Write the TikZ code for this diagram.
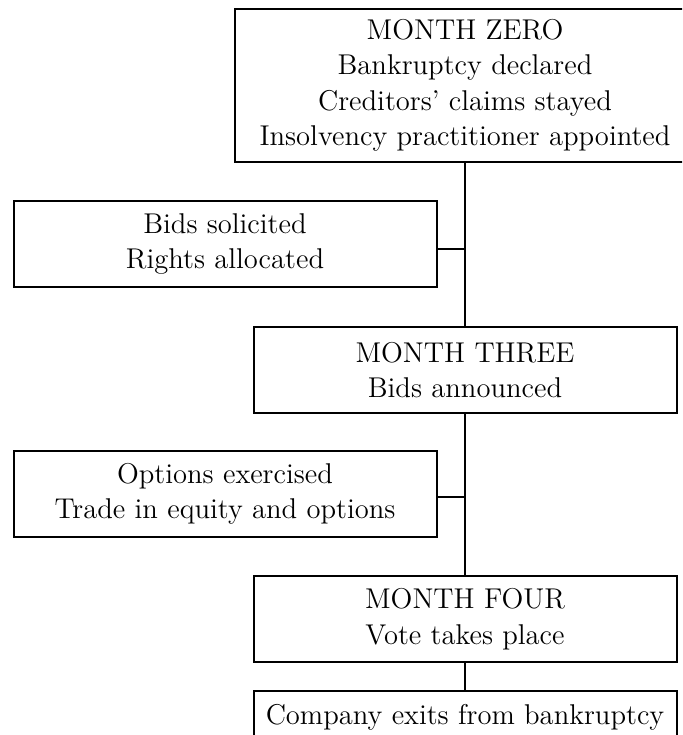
\documentclass[tikz,border=0pt]{standalone}
\usepackage{tikz}
\usetikzlibrary{positioning}
\tikzset{
  stage/.style={
    rectangle,
    minimum width=211.5pt,
    minimum height=43pt,
    inner xsep=12pt,
    outer sep=0pt,
    align=center,
    draw=black,
    line width=1pt,
    font=\fontsize{14.3}{17.7}\selectfont
    },
  event/.style={stage},
  link/.style={line width=1pt},
}

\begin{document}
\begin{tikzpicture}
\useasboundingbox (0,0) rectangle (341pt,-367.5pt);
\clip (0,0) rectangle (341pt,-367.5pt);
\node (zero) [stage, minimum width=230pt, minimum height=76.5pt, anchor=north] at (232.5pt,-4.5pt)
  {MONTH ZERO\\Bankruptcy declared\\Creditors' claims stayed\\Insolvency practitioner appointed};
\node (bids) [event, below=19.5pt of zero, xshift=-120pt] {Bids solicited\\Rights allocated};
\node (three) [stage, below=20pt of bids, xshift=120pt] {MONTH THREE\\Bids announced};
\node (opts) [event, below=19pt of three, xshift=-120pt] {Options exercised\\Trade in equity and options};
\node (four) [stage, below=19.5pt of opts, xshift=120pt] {MONTH FOUR\\Vote takes place};
\node (exit) [stage, minimum height=26pt, inner xsep=5pt, below=14.5pt of four] {Company exits from bankruptcy};

\draw [link] (zero) -- (three);
\draw [link] (three) -- (four);
\draw [link] (four) -- (exit);
\draw [link] ([yshift=-2.5pt]bids.east) -- ([yshift=-2.5pt]bids.east -| zero.south);
\draw [link] ([yshift=-1.5pt]opts.east) -- ([yshift=-1.5pt]opts.east -| three.north);
\end{tikzpicture}
\end{document}
